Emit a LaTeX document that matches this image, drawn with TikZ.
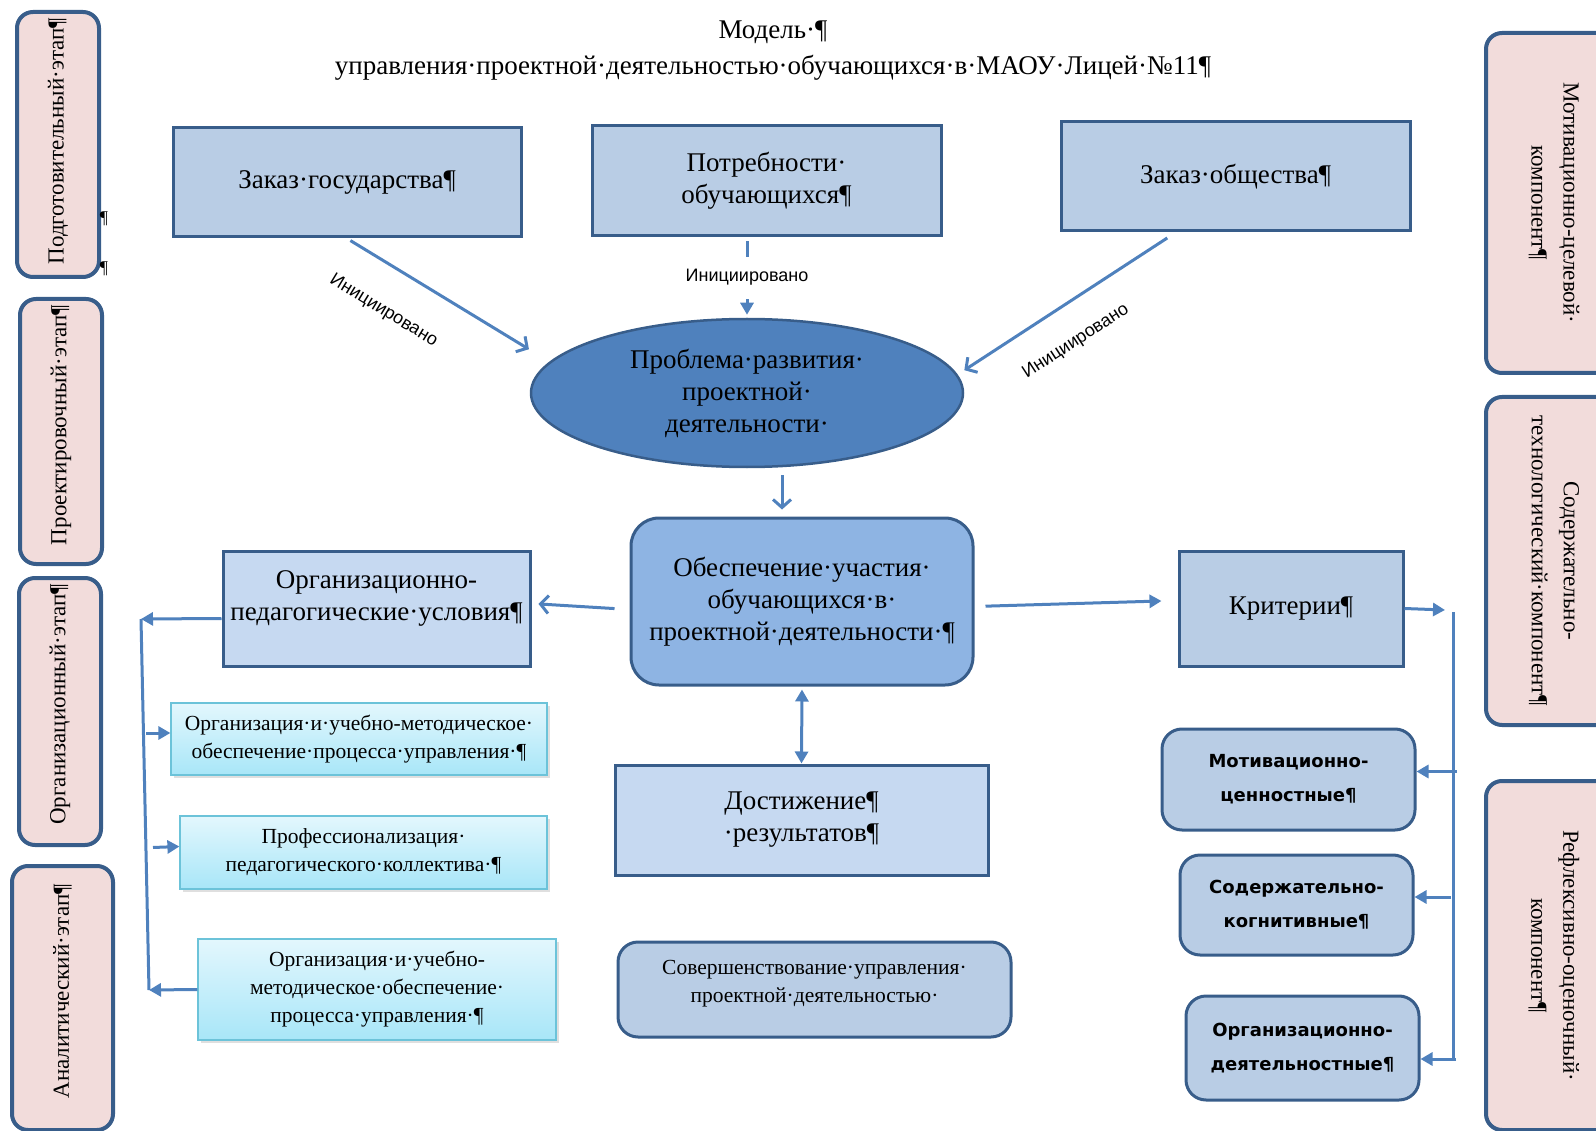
\documentclass[tikz,border=0pt]{standalone}
\usepackage{fontspec}
\setmainfont{Liberation Serif}
\newfontfamily\lsans{Liberation Sans}
\newfontfamily\dvsans{DejaVu Sans}
\usetikzlibrary{arrows.meta}
\usetikzlibrary{calc}
\usetikzlibrary{shapes.geometric}
\usetikzlibrary{shadows}
\definecolor{bordc}{HTML}{385D8A}
\definecolor{boxa}{HTML}{B9CDE5}
\definecolor{boxb}{HTML}{C6D9F1}
\definecolor{boxc}{HTML}{8EB4E3}
\definecolor{ellc}{HTML}{4F81BD}
\definecolor{arrc}{HTML}{4F81BD}
\definecolor{pinkc}{HTML}{F2DCDB}
\definecolor{cyanb}{HTML}{6CC3D9}
\definecolor{cyant}{HTML}{E3F7FD}
\definecolor{cyanbt}{HTML}{A8E6F8}
\newcommand{\sizefont}[2]{\fontsize{#1}{#2}\selectfont}
\tikzset{box/.style={draw=bordc, line width=3pt, fill=boxa, inner sep=0pt, align=center, font=\sizefont{27}{32}}}
\tikzset{litebox/.style={box, fill=boxb}}
\tikzset{roundbox/.style={box, rounded corners=28pt}}
\tikzset{critbox/.style={box, rounded corners=20pt, font=\dvsans\bfseries\sizefont{18}{34}}}
\tikzset{cyanbox/.style={draw=cyanb, line width=1.2pt, top color=cyant, bottom color=cyanbt, drop shadow={opacity=0.25, shadow xshift=3pt, shadow yshift=-3pt}, inner sep=0pt, align=center, font=\sizefont{21.5}{28}}}
\tikzset{pinkbox/.style={draw=bordc, line width=4pt, fill=pinkc, rounded corners=16pt, inner sep=4pt, font=\sizefont{23}{32}}}
\tikzset{stage/.style={pinkbox, rotate=90, align=right}}
\tikzset{comp/.style={pinkbox, rotate=-90, align=center}}
\tikzset{arrow/.style={draw=arrc, line width=3pt, -{Triangle[length=12pt,width=13pt]}}}
\tikzset{barb/.style={draw=arrc, line width=3pt, -{Straight Barb[length=8pt,width=18pt]}}}
\tikzset{link/.style={draw=arrc, line width=3pt}}
\tikzset{initlab/.style={font=\lsans\sizefont{18}{20}}}

\begin{document}
\begin{tikzpicture}[x=1pt, y=-1pt]
        \useasboundingbox (0,0) rectangle (1596,1131);
        \clip (0,0) rectangle (1596,1131);

        \node[align=center, font=\sizefont{27}{36}] (title) at (773,51)
            {Модель·¶\\управления·проектной·деятельностью·обучающихся·в·МАОУ·Лицей·№11¶};

        \node[stage, minimum width=265pt, minimum height=82pt, text width=253pt] (prep) at (58,144.5) {Подготовительный·этап¶};
        \node[stage, minimum width=265pt, minimum height=82pt, text width=253pt] (proj) at (61,431.5) {Проектировочный·этап¶};
        \node[stage, minimum width=267pt, minimum height=82pt, text width=255pt] (orgs) at (60,711.5) {Организационный·этап¶};
        \node[stage, minimum width=264pt, minimum height=101pt, text width=228pt] (anal) at (62.5,998) {Аналитический·этап¶};
        \node[font=\sizefont{18}{20}] (pil1) at (104,219) {¶};
        \node[font=\sizefont{18}{20}] (pil2) at (104,269) {¶};

        \node[comp, minimum width=340pt, minimum height=136pt] (mcomp) at (1554,203) {Мотивационно-целевой·\\компонент¶};
        \node[comp, minimum width=328pt, minimum height=136pt] (scomp) at (1554,561) {Содержательно-\\технологический·компонент¶};
        \node[comp, minimum width=349pt, minimum height=136pt] (rcomp) at (1554,955.5) {Рефлексивно-оценочный·\\компонент¶};

        \node[box, minimum width=348pt, minimum height=109pt] (zg) at (347,182.5) {Заказ·государства¶};
        \node[box, minimum width=349pt, minimum height=110pt] (pt) at (766.5,181) {Потребности·\\обучающихся¶};
        \node[box, minimum width=349pt, minimum height=109pt] (zo) at (1235.5,176.5) {Заказ·общества¶};

        \node[ellipse, draw=bordc, line width=2.5pt, fill=ellc, inner sep=0pt, align=center, font=\sizefont{27}{32},
            minimum width=432pt, minimum height=148pt] (prob) at (747,393) {Проблема·развития·\\проектной·\\деятельности·};

        \node[roundbox, fill=boxc, minimum width=342pt, minimum height=167pt] (cen) at (802,601.5)
            {Обеспечение·участия·\\обучающихся·в·\\проектной·деятельности·¶};
        \node[litebox, minimum width=307pt, minimum height=115pt] (orgped) at (376.5,608.5) {Организационно-\\педагогические·условия¶\\[-7pt]\mbox{}};
        \node[litebox, minimum width=373pt, minimum height=110pt] (dost) at (801.5,820) {Достижение¶\\·результатов¶};
        \node[roundbox, rounded corners=20pt, font=\sizefont{21.5}{28}, minimum width=393pt, minimum height=95pt] (sov) at (814.5,989.5)
            {Совершенствование·управления·\\проектной·деятельностью·\\[-12pt]\mbox{}};
        \node[box, minimum width=224pt, minimum height=115pt] (crit) at (1291,608.5) {Критерии¶};

        \node[critbox, minimum width=253pt, minimum height=101pt] (mcrit) at (1288.5,779.5) {Мотивационно-\\ценностные¶};
        \node[critbox, minimum width=233pt, minimum height=100pt] (scrit) at (1296.5,905) {Содержательно-\\когнитивные¶};
        \node[critbox, minimum width=233pt, minimum height=104pt] (ocrit) at (1302.5,1048) {Организационно-\\деятельностные¶};

        \node[cyanbox, minimum width=376pt, minimum height=72pt] (cy1) at (359,739)
            {Организация·и·учебно-методическое·\\обеспечение·процесса·управления·¶};
        \node[cyanbox, minimum width=367pt, minimum height=73pt] (cy2) at (363.5,852.5)
            {Профессионализация·\\педагогического·коллектива·¶};
        \node[cyanbox, minimum width=358pt, minimum height=101pt] (cy3) at (377,989.5)
            {Организация·и·учебно-\\методическое·обеспечение·\\процесса·управления·¶};

        \draw[barb, shorten <=4pt, shorten >=24pt] (zg.south) -- (prob.171)
            node[initlab, pos=0.29, sloped, below=30pt] (lab1) {Инициировано};
        \draw[arrow, shorten <=4pt, shorten >=3pt] (pt.south -| prob.north) -- (prob.north)
            node[initlab, midway, fill=white, inner ysep=13pt] (lab2) {Инициировано};
        \draw[barb, shorten <=10pt, shorten >=8pt] ($(zo.south west)!0.33!(zo.south east)$) -- (prob.5)
            node[initlab, pos=0.55, sloped, below=24pt] (lab3) {Инициировано};
        \draw[barb] ([xshift=35pt,yshift=-7pt]prob.south) -- ([xshift=-20pt,yshift=7pt]cen.north);
        \draw[barb, shorten <=15pt, shorten >=7pt] ([yshift=-8pt]cen.west) -- ([yshift=5pt]orgped.east);
        \draw[arrow, shorten <=11pt, shorten >=16pt] ([yshift=-5pt]cen.east) -- ([yshift=8pt]crit.west);
        \draw[arrow, {Triangle[length=12pt,width=13pt]}-{Triangle[length=12pt,width=13pt]}, shorten <=3pt] (cen.south) -- (dost.north);

        \coordinate (lt) at (141,619);
        \coordinate (lb) at (149,990);
        \draw[arrow] ([yshift=-10pt]orgped.west) -- (lt);
        \draw[link] (lt) -- (lb);
        \draw[arrow] ($(cy1.west -| lb)+(-3,-6)$) -- ($(cy1.west)+(0,-6)$);
        \draw[arrow] ($(cy2.west -| lb)+(4,-5)$) -- ($(cy2.west)+(0,-6)$);
        \draw[arrow] (cy3.west) -- (lb);

        \coordinate (rt) at (1445,610);
        \coordinate (rtop) at (1453,612);
        \coordinate (rbot) at (1453,1061);
        \draw[arrow] (crit.east) -- (rt);
        \draw[link] (rtop) -- (rbot);
        \draw[arrow] ($(mcrit.east -| rtop)+(4,-8)$) -- ($(mcrit.east)+(0,-8)$);
        \draw[arrow] ($(scrit.east -| rtop)+(-2,-8)$) -- ($(scrit.east)+(0,-8)$);
        \draw[arrow] ($(ocrit.east -| rtop)+(3,11)$) -- ($(ocrit.east)+(0,11)$);
\end{tikzpicture}
\end{document}
